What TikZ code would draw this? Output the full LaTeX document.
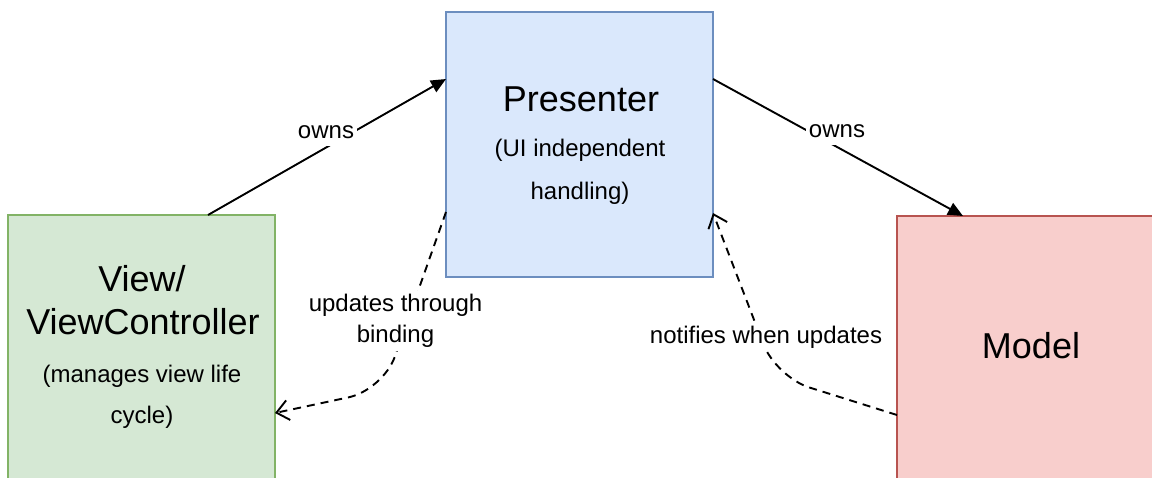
\documentclass[tikz,border=0pt]{standalone}
\usepackage{fontspec}
\setmainfont{Liberation Sans}
\usetikzlibrary{arrows.meta,calc}
\definecolor{presfill}{HTML}{DAE8FC}
\definecolor{presdraw}{HTML}{6C8EBF}
\definecolor{viewfill}{HTML}{D5E8D4}
\definecolor{viewdraw}{HTML}{82B366}
\definecolor{modelfill}{HTML}{F8CECC}
\definecolor{modeldraw}{HTML}{B85450}
\begin{document}
\begin{tikzpicture}[x=1pt,y=-1pt,
  box/.style={rectangle, line width=1.6pt, outer sep=0pt, inner sep=0pt, anchor=north west},
  big/.style={font=\fontsize{36}{43}\selectfont, anchor=base, inner sep=0pt},
  small/.style={font=\fontsize{24}{29}\selectfont, anchor=base, inner sep=0pt},
  lbl/.style={font=\fontsize{24}{31}\selectfont, fill=white, inner sep=3pt, text height=17pt, text depth=5pt, anchor=base},
  lbltwo/.style={font=\fontsize{24}{31}\selectfont, fill=white, inner sep=3pt, align=center},
  ownline/.style={line width=1.9pt, -{Triangle[length=15pt,width=13pt]}},
  dashline/.style={line width=1.9pt, dash pattern=on 8pt off 6pt, rounded corners=35pt, -{Straight Barb[length=12pt,width=20pt]}}
]
\useasboundingbox (0,0) rectangle (1152,477);
\fill[white] (0,0) rectangle (1152,477);
\clip (0,0) rectangle (1152,477);

% boxes
\node[box, fill=viewfill, draw=viewdraw, minimum width=267pt, minimum height=300pt] (view) at (8,215) {};
\node[box, fill=presfill, draw=presdraw, minimum width=267pt, minimum height=265pt] (pres) at (446,12) {};
\node[box, fill=modelfill, draw=modeldraw, minimum width=290pt, minimum height=300pt] (model) at (897,216) {};

% waypoints
\coordinate (bendL) at (383,390);
\coordinate (bendR) at (776,377);

% connectors
\draw[ownline] ($(view.north west)+(200,0)$) -- ($(pres.north west)+(0,67)$);
\draw[ownline] ($(pres.north east)+(0,67)$) -- ($(model.north west)+(66,0)$);
\draw[dashline] ($(pres.north west)+(0,200)$) -- (bendL) -- ($(view.north east)+(0,198)$);
\draw[dashline] ($(model.north west)+(0,199)$) -- (bendR) -- ($(pres.north east)+(0,201)$);

% connector labels
\node[lbl] (ownsL) at (326,138) {owns};
\node[lbl] (ownsR) at (837,137) {owns};
\node[lbltwo] (upd) at (395.5,321) {updates through\\binding};
\node[lbl] (notif) at (766,343) {notifies when updates};

% box texts
\node[big] (v1) at (142,291.7) {View/};
\node[big] (v2) at (143,334) {ViewController};
\node[small] (v3) at (142,382) {(manages view life};
\node[small] (v4) at (142,423) {cycle)};

\node[big] (p1) at (581,111.7) {Presenter};
\node[small] (p2) at (580,156) {(UI independent};
\node[small] (p3) at (580,199) {handling)};

\node[big] (m1) at (1031,358) {Model};
\end{tikzpicture}
\end{document}
